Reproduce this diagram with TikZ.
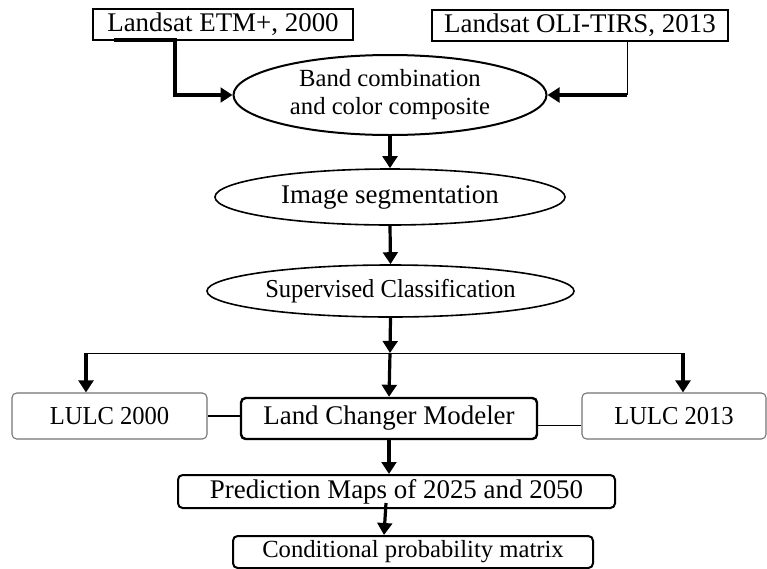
\documentclass[tikz,border=0pt]{standalone}
\usepackage{fontspec}
\setmainfont{Liberation Serif}
\newfontfamily\narrowserif[FakeStretch=0.95]{Liberation Serif}
\usetikzlibrary{shapes.geometric,arrows.meta}

\newcommand{\bigtxt}{\fontsize{20.2}{24}\selectfont}
\newcommand{\smalltxt}{\fontsize{18.5}{21}\selectfont}
\newcommand{\narrowtxt}{\narrowserif\fontsize{19.4}{22}\selectfont}

\tikzset{
  srcbox/.style={draw,line width=1.5pt,minimum height=23.25pt,inner sep=0pt,font=\bigtxt},
  stage/.style={draw,ellipse,line width=1.2pt,inner sep=0pt,align=center},
  lulcbox/.style={draw=black!55,line width=0.8pt,rounded corners=3.5pt,minimum width=#1,minimum height=34.5pt,inner sep=0pt,font=\narrowtxt},
  outbox/.style={draw,line width=1.5pt,rounded corners=3.5pt,inner sep=0pt},
  flow/.style={line width=2.4pt,-{Triangle[length=9pt,width=11pt]}},
  link/.style={line width=0.75pt}
}

\begin{document}
\begin{tikzpicture}[x=0.75pt,y=-0.75pt]
\useasboundingbox (0,0) rectangle (767,568);
% inputs
\node[srcbox,minimum width=195pt] (etm) at (223,24.5) {Landsat ETM+, 2000};
\node[srcbox,minimum width=222pt] (oli) at (580,25.5) {Landsat OLI-TIRS, 2013};
% processing
\node[stage,line width=1.5pt,minimum width=234.75pt,minimum height=60pt,font=\smalltxt] (band) at (390,95) {Band combination\\and color composite};
\node[stage,minimum width=262.5pt,minimum height=42pt,font=\bigtxt] (seg) at (390,197) {Image segmentation};
\node[stage,minimum width=275.25pt,minimum height=39pt,font=\narrowtxt] (cls) at (390.5,291) {Supervised Classification};
% maps and model
\node[lulcbox=146.25pt] (lulcA) at (109.5,416) {LULC 2000};
\node[outbox,line width=1.8pt,minimum width=222pt,minimum height=30.75pt,font=\bigtxt] (lcm) at (389,418.5) {Land Changer Modeler};
\node[lulcbox=138pt] (lulcB) at (674,416) {LULC 2013};
\node[outbox,minimum width=327.75pt,minimum height=24.75pt,font=\bigtxt] (pred) at (396.5,491.5) {Prediction Maps of 2025 and 2050};
\node[outbox,minimum width=270pt,minimum height=24pt,font=\smalltxt] (cond) at (413,552) {Conditional probability matrix};

\coordinate (etmA) at (114,40);
\coordinate (etmB) at (175,40);
\coordinate (oliA) at (627,95);
\coordinate (split) at (390,353);
\coordinate (splitL) at (86,353);
\coordinate (splitR) at (683,353);
\coordinate (predA) at (386,503);

% connectors
\draw[flow] (etmA) -- (etmB) |- (band.west);
\draw[link] (oli.south -| oliA) -- (oliA);
\draw[flow] (oliA) -- (band.east);
\draw[flow] (band.south) -- (seg.north);
\draw[flow] (seg.south) -- (cls.north);
\draw[flow] (cls.south) -- (split);
\draw[link] (splitL) -- (splitR);
\draw[flow] (splitL) -- (splitL |- lulcA.north);
\draw[flow] (split) -- (lcm.north);
\draw[flow] (splitR) -- (splitR |- lulcB.north);
\draw[line width=1.2pt] (lulcA.east) -- (lulcA.east -| lcm.west);
\draw[link] ([yshift=-5.6pt]lcm.east) -- ([yshift=-5.6pt]lcm.east -| lulcB.west);
\draw[flow] (lcm.south) -- (lcm.south |- pred.north);
\draw[flow] (predA) -- ([xshift=-21.75pt]cond.north);
\end{tikzpicture}
\end{document}
